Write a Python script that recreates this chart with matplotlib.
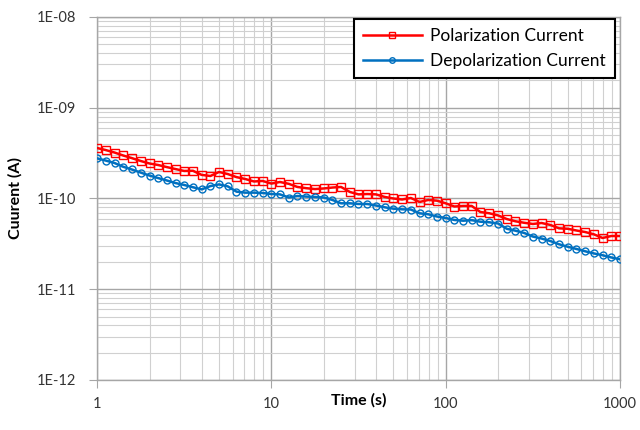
import numpy as np
import matplotlib
matplotlib.use('Agg')
import matplotlib.pyplot as plt
from matplotlib.ticker import FixedLocator, FixedFormatter, LogLocator, NullFormatter

plt.rcParams['font.family'] = ['Lato', 'DejaVu Sans']

# tempo (s)
time_s = [1, 1.12, 1.26, 1.41, 1.58, 1.78, 2.0, 2.24, 2.51, 2.82,
          3.16, 3.55, 3.98, 4.47, 5.01, 5.62, 6.31, 7.08, 7.94, 8.91,
          10, 11.2, 12.6, 14.1, 15.8, 17.8, 20, 22.4, 25.1, 28.2,
          31.6, 35.5, 39.8, 44.7, 50.1, 56.2, 63.1, 70.8, 79.4, 89.1,
          100, 112, 126, 141, 158, 178, 200, 224, 251, 282,
          316, 355, 398, 447, 501, 562, 631, 708, 794, 891, 1000]

# corrente em unidades de 1e-10 A
pol_e10 = [3.60, 3.42, 3.21, 2.98, 2.79, 2.59, 2.43, 2.34, 2.22, 2.11,
           2.01, 2.02, 1.82, 1.77, 1.96, 1.86, 1.72, 1.64, 1.54, 1.56,
           1.46, 1.52, 1.45, 1.34, 1.30, 1.27, 1.29, 1.32, 1.34, 1.18,
           1.11, 1.12, 1.11, 1.04, 1.00, 0.975, 1.013, 0.915, 0.963, 0.946,
           0.885, 0.816, 0.827, 0.827, 0.710, 0.687, 0.650, 0.594, 0.561, 0.540,
           0.524, 0.537, 0.511, 0.469, 0.464, 0.444, 0.427, 0.403, 0.367, 0.386, 0.386]

depol_e10 = [2.77, 2.62, 2.46, 2.24, 2.09, 1.93, 1.79, 1.68, 1.58, 1.48,
             1.41, 1.33, 1.26, 1.37, 1.43, 1.36, 1.19, 1.16, 1.16, 1.15,
             1.12, 1.11, 1.025, 1.065, 1.05, 1.04, 1.025, 0.963, 0.885, 0.885,
             0.870, 0.870, 0.837, 0.800, 0.772, 0.760, 0.756, 0.687, 0.670, 0.633,
             0.610, 0.580, 0.569, 0.577, 0.555, 0.547, 0.530, 0.464, 0.442, 0.417,
             0.381, 0.362, 0.340, 0.313, 0.294, 0.278, 0.262, 0.248, 0.237, 0.224, 0.214]

x_ticks = [1, 10, 100, 1000]
x_labels = ['1', '10', '100', '1000']
y_ticks = [1e-12, 1e-11, 1e-10, 1e-9, 1e-8]
y_labels = ['1E-12', '1E-11', '1E-10', '1E-09', '1E-08']

pol = np.array(pol_e10) * 1e-10
depol = np.array(depol_e10) * 1e-10

fig = plt.figure(figsize=(6.4, 4.3), dpi=100)
ax = fig.add_axes([0.1516, 0.1163, 0.8172, 0.8442])

ax.plot(time_s, pol, color='#FF0000', lw=1.8, marker='s', ms=5.5,
        mfc='none', mec='#FF0000', mew=1.0, label='Polarization Current', zorder=3)
ax.plot(time_s, depol, color='#0070C0', lw=1.8, marker='o', ms=5,
        mfc='none', mec='#0070C0', mew=1.0, label='Depolarization Current', zorder=3)

ax.set_xscale('log')
ax.set_yscale('log')
ax.set_xlim(1, 1000)
ax.set_ylim(1e-12, 1e-8)

ax.xaxis.set_major_locator(FixedLocator(x_ticks))
ax.xaxis.set_major_formatter(FixedFormatter(x_labels))
ax.yaxis.set_major_locator(FixedLocator(y_ticks))
ax.yaxis.set_major_formatter(FixedFormatter(y_labels))
ax.xaxis.set_minor_locator(LogLocator(base=10, subs=np.arange(2, 10), numticks=20))
ax.yaxis.set_minor_locator(LogLocator(base=10, subs=np.arange(2, 10), numticks=20))
ax.xaxis.set_minor_formatter(NullFormatter())
ax.yaxis.set_minor_formatter(NullFormatter())

ax.grid(which='major', color='#A6A6A6', lw=1.0)
ax.grid(which='minor', color='#D0D0D0', lw=0.8)
ax.set_axisbelow(True)

for s in ax.spines.values():
    s.set_color('#A6A6A6')
    s.set_linewidth(1.0)

ax.tick_params(which='major', direction='out', length=6, color='#A6A6A6',
               labelsize=10.5, labelcolor='#333333', pad=9)
ax.tick_params(axis='x', which='major', pad=6)
ax.tick_params(which='minor', length=0)

ax.set_xlabel('Time (s)', fontsize=11.5, fontweight='bold', labelpad=-13)
ax.set_ylabel('Cuurent (A)', fontsize=11.5, fontweight='bold', labelpad=10)

leg = ax.legend(loc='upper right', bbox_to_anchor=(0.990, 0.994), borderaxespad=0,
                fontsize=12.5, frameon=True, fancybox=False, edgecolor='black',
                framealpha=1, borderpad=0.5, handlelength=3.4, labelspacing=0.55,
                handletextpad=0.5, markerscale=0.8)
leg.get_frame().set_linewidth(1.5)

fig.savefig('out.png', dpi=100)
